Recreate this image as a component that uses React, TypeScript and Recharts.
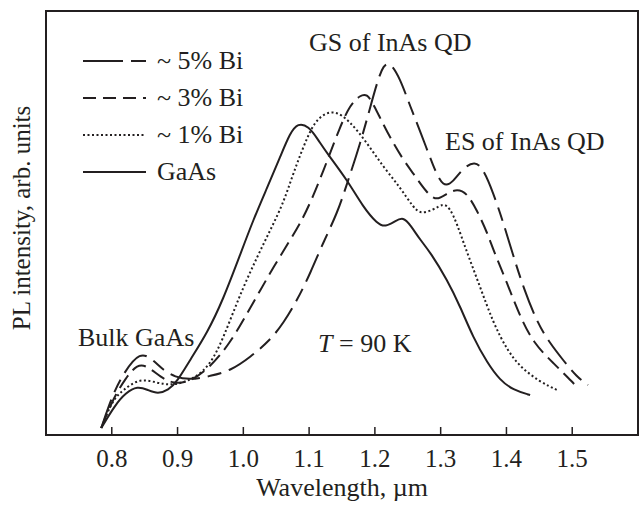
import React from 'react';
import { LineChart, Line, XAxis, YAxis, ReferenceArea } from 'recharts';

// PL spectra at T = 90 K (wavelength in um, intensity in arb. units)
const wavelengthTicks = [0.8, 0.9, 1.0, 1.1, 1.2, 1.3, 1.4, 1.5];

const bi5Wavelength = [0.784, 0.801, 0.818, 0.843, 0.863, 0.878, 0.896, 0.919, 0.95, 0.98, 1.011, 1.041, 1.061, 1.082, 1.102, 1.121, 1.143, 1.158, 1.178, 1.193, 1.204, 1.213, 1.223, 1.238, 1.254, 1.27, 1.289, 1.304, 1.319, 1.334, 1.352, 1.365, 1.38, 1.395, 1.41, 1.426, 1.447, 1.466, 1.486, 1.507, 1.524];
const bi5Intensity = [7, 40, 62, 84, 75, 65, 58, 55, 59, 64, 78, 95, 112, 135, 162, 192, 222, 252, 292, 328, 354, 370, 373, 357, 328, 302, 268, 247, 253, 267, 274, 266, 242, 213, 180, 147, 112, 92, 75, 58, 50];

const bi3Wavelength = [0.784, 0.801, 0.821, 0.839, 0.854, 0.874, 0.894, 0.919, 0.95, 0.98, 1.006, 1.026, 1.046, 1.071, 1.087, 1.106, 1.128, 1.147, 1.162, 1.178, 1.188, 1.197, 1.219, 1.243, 1.258, 1.279, 1.294, 1.31, 1.325, 1.34, 1.355, 1.371, 1.38, 1.401, 1.421, 1.441, 1.471, 1.502, 1.508];
const bi3Intensity = [7, 35, 57, 71, 69, 58, 51, 53, 68, 92, 122, 145, 168, 195, 212, 238, 275, 308, 330, 340, 341, 332, 302, 275, 262, 242, 234, 242, 246, 242, 225, 202, 185, 152, 118, 92, 72, 52, 47];

const bi1Wavelength = [0.784, 0.801, 0.817, 0.843, 0.869, 0.889, 0.909, 0.939, 0.96, 0.98, 1.0, 1.021, 1.041, 1.061, 1.076, 1.097, 1.112, 1.137, 1.162, 1.188, 1.213, 1.239, 1.258, 1.269, 1.289, 1.304, 1.314, 1.325, 1.337, 1.36, 1.38, 1.401, 1.421, 1.451, 1.477];
const bi1Intensity = [7, 35, 45, 57, 52, 50, 52, 62, 82, 115, 148, 178, 205, 232, 262, 298, 317, 326, 314, 292, 268, 247, 228, 221, 225, 232, 227, 211, 188, 148, 112, 85, 68, 53, 45];

const gaasWavelength = [0.784, 0.805, 0.821, 0.839, 0.855, 0.87, 0.886, 0.899, 0.919, 0.945, 0.969, 0.995, 1.015, 1.036, 1.056, 1.071, 1.083, 1.099, 1.114, 1.127, 1.158, 1.182, 1.204, 1.216, 1.231, 1.243, 1.254, 1.269, 1.284, 1.31, 1.33, 1.349, 1.371, 1.39, 1.41, 1.436];
const gaasIntensity = [7, 30, 42, 49, 45, 41, 45, 53, 75, 102, 135, 180, 215, 247, 278, 302, 312, 309, 295, 282, 255, 228, 211, 208, 214, 218, 210, 195, 183, 155, 128, 98, 72, 55, 45, 40];

const toPoints = (xs: number[], ys: number[]) => xs.map((x, i) => ({ wavelength: x, intensity: ys[i] }));

const INK = '#231f20';
const FONT = '"Liberation Serif", "Times New Roman", serif';

const series = [
  { key: 'bi5', label: '~ 5% Bi', data: toPoints(bi5Wavelength, bi5Intensity), dash: '30 8 14 8', legendDash: '40 8 15 100' },
  { key: 'bi3', label: '~ 3% Bi', data: toPoints(bi3Wavelength, bi3Intensity), dash: '15 7', legendDash: '13 7' },
  { key: 'bi1', label: '~ 1% Bi', data: toPoints(bi1Wavelength, bi1Intensity), dash: '2 2.5', legendDash: '2 2.5' },
  { key: 'gaas', label: 'GaAs', data: toPoints(gaasWavelength, gaasIntensity), dash: undefined, legendDash: undefined },
];

const textStyle: React.CSSProperties = {
  position: 'absolute',
  fontFamily: FONT,
  fontSize: 26,
  lineHeight: '26px',
  color: INK,
  whiteSpace: 'nowrap',
};

// inward tick mark plus label under the axis
const WavelengthTick = (props: any) => {
  const { x, y, payload } = props;
  return (
    <g>
      <line x1={x} y1={y} x2={x} y2={y - 8} stroke={INK} strokeWidth={1.5} />
      <text x={x} y={y + 32} textAnchor="middle" fill={INK} fontSize={25} fontFamily={FONT}>
        {Number(payload.value).toFixed(1)}
      </text>
    </g>
  );
};

const App: React.FC = () => {
  return (
    <div style={{ position: 'absolute', left: 0, top: 0, width: 640, height: 505, background: '#fff' }}>
      <LineChart width={640} height={505} data={series[0].data} margin={{ top: 11, right: 2, bottom: 0, left: 46 }}>
        <XAxis
          dataKey="wavelength"
          type="number"
          domain={[0.7, 1.6]}
          ticks={wavelengthTicks}
          height={70}
          axisLine={false}
          tickLine={false}
          tickSize={0}
          tickMargin={0}
          tick={<WavelengthTick />}
          allowDataOverflow
        />
        <YAxis type="number" domain={[0, 424]} width={0} tick={false} tickLine={false} axisLine={false} allowDataOverflow />
        <ReferenceArea x1={0.7} x2={1.6} y1={0} y2={424} fill="none" stroke={INK} strokeWidth={2} />
        {series.map((s) => (
          <Line
            key={s.key}
            data={s.data}
            dataKey="intensity"
            type="basis"
            stroke={INK}
            strokeWidth={2}
            strokeDasharray={s.dash}
            dot={false}
            activeDot={false}
            isAnimationActive={false}
          />
        ))}
      </LineChart>

      {/* legend */}
      {series.map((s, i) => (
        <div key={s.key}>
          <svg style={{ position: 'absolute', left: 83, top: 58 + i * 37 }} width={64} height={6}>
            <line x1={0} y1={3} x2={63} y2={3} stroke={INK} strokeWidth={2} strokeDasharray={s.legendDash} />
          </svg>
          <span style={{ ...textStyle, left: 157, top: 48 + i * 37 }}>{s.label}</span>
        </div>
      ))}

      {/* annotations */}
      <span style={{ ...textStyle, left: 309, top: 30 }}>GS of InAs QD</span>
      <span style={{ ...textStyle, left: 445, top: 129 }}>ES of InAs QD</span>
      <span style={{ ...textStyle, left: 78, top: 325 }}>Bulk GaAs</span>
      <span style={{ ...textStyle, left: 318, top: 331 }}>
        <i>T</i> = 90 K
      </span>

      {/* axis titles */}
      <span style={{ ...textStyle, left: 342, top: 475, transform: 'translateX(-50%)' }}>Wavelength, µm</span>
      <span style={{ ...textStyle, fontSize: 25, left: 22, top: 218, transform: 'translate(-50%, -50%) rotate(-90deg)' }}>
        PL intensity, arb. units
      </span>
    </div>
  );
};

export default App;
